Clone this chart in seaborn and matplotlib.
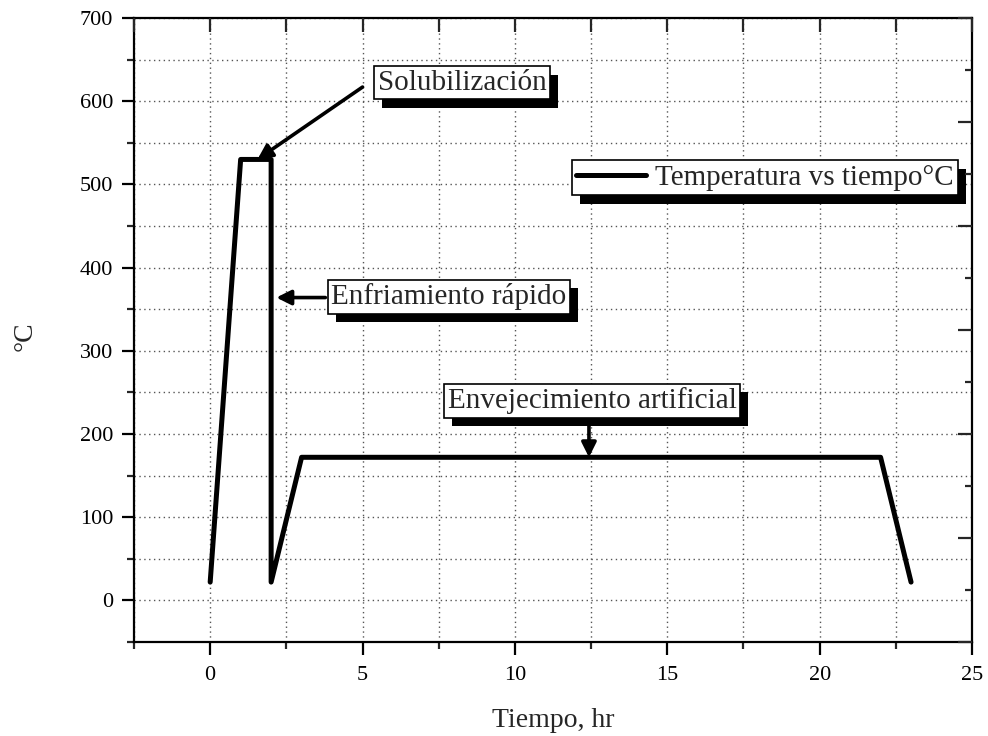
import matplotlib
matplotlib.use("Agg")
import matplotlib.pyplot as plt
import matplotlib.patheffects as pe
from matplotlib.ticker import MultipleLocator, NullFormatter
import seaborn as sns
import pandas as pd

# ---- data ----
tiempo_hr = [0, 1, 2, 2, 3, 22, 23]
temperatura_C = [22, 530, 530, 22, 172, 172, 22]
serie_label = "Temperatura vs tiempo°C"
x_label = "Tiempo, hr"
y_label = "°C"
anot_textos = ["Solubilización", "Enfriamiento rápido", "Envejecimiento artificial"]
anot_textpos = [(8.26, 622), (7.83, 365), (12.53, 240)]
flecha_puntas = [(1.55, 530), (2.17, 364), (12.43, 172)]
flecha_colas = [(5.0, 617), (3.78, 364), (12.43, 220)]

sns.set_theme(style="white")
plt.rcParams["font.family"] = ["Liberation Serif", "DejaVu Serif"]

fig = plt.figure(figsize=(9.88, 7.36), dpi=100)
ax = fig.add_axes([134/988, 1-642/736, (972-134)/988, (642-18)/736])

df = pd.DataFrame({"t": tiempo_hr, "T": temperatura_C})
sns.lineplot(data=df, x="t", y="T", sort=False, estimator=None, ax=ax,
             color="black", linewidth=3.6, label=serie_label)

ax.set_xlim(-2.5, 25)
ax.set_ylim(-50, 700)
ax.xaxis.set_major_locator(MultipleLocator(5))
ax.xaxis.set_minor_locator(MultipleLocator(2.5))
ax.yaxis.set_major_locator(MultipleLocator(100))
ax.yaxis.set_minor_locator(MultipleLocator(50))

ax.grid(True, which="both", linestyle=(0, (1, 2.5)), color="#555555", linewidth=1.0)
for s in ax.spines.values():
    s.set_linewidth(1.6)
    s.set_color("black")

ax.tick_params(axis="both", which="major", direction="out", length=9, width=1.6,
               labelsize=16, colors="black")
ax.tick_params(axis="x", which="major", pad=8)
ax.tick_params(axis="y", which="major", pad=6)
ax.tick_params(axis="both", which="minor", direction="out", length=5, width=1.6)
ax.tick_params(axis="x", which="both", top=False, bottom=True, labeltop=False)
ax.tick_params(axis="y", which="both", left=True, right=False)

# top inward ticks
axt = ax.twiny()
axt.set_xlim(ax.get_xlim())
axt.xaxis.set_major_locator(MultipleLocator(5))
axt.xaxis.set_minor_locator(MultipleLocator(2.5))
axt.xaxis.set_major_formatter(NullFormatter())
axt.tick_params(axis="x", which="both", direction="in", length=10, width=1.6)
axt.grid(False)
for s in axt.spines.values():
    s.set_visible(False)

# right inward ticks
axr = ax.twinx()
axr.set_ylim(0, 6)
axr.yaxis.set_major_locator(MultipleLocator(1))
axr.yaxis.set_minor_locator(MultipleLocator(0.5))
axr.yaxis.set_major_formatter(NullFormatter())
axr.tick_params(axis="y", which="major", direction="in", length=10, width=1.6)
axr.tick_params(axis="y", which="minor", direction="in", length=5, width=1.6)
axr.grid(False)
for s in axr.spines.values():
    s.set_visible(False)

ax.set_xlabel(x_label, fontsize=20)
ax.set_ylabel(y_label, fontsize=20)
ax.xaxis.set_label_coords(0.5, -0.105)
ax.yaxis.set_label_coords(-0.115, 0.49)

shadow = [pe.SimplePatchShadow(offset=(6, -6), shadow_rgbFace="black", alpha=1.0), pe.Normal()]

for tip, tail in zip(flecha_puntas, flecha_colas):
    ax.annotate("", xy=tip, xytext=tail, textcoords="data", zorder=9,
                arrowprops=dict(arrowstyle="-|>", color="black", lw=2.6,
                                mutation_scale=22, shrinkA=0, shrinkB=0))

for txt, tpos in zip(anot_textos, anot_textpos):
    t = ax.text(tpos[0], tpos[1], txt, ha="center", va="center", fontsize=21, zorder=10,
                bbox=dict(boxstyle="square,pad=0.12", fc="white", ec="black", lw=1.2))
    t.get_bbox_patch().set_path_effects(shadow)

leg = ax.legend(loc="upper right", bbox_to_anchor=(0.983, 0.772), fontsize=21,
                frameon=True, fancybox=False, framealpha=1, edgecolor="black",
                handlelength=2.4, handletextpad=0.3, borderpad=0.15,
                borderaxespad=0)
leg.get_frame().set_linewidth(1.2)
leg.get_frame().set_path_effects(shadow)
leg.set_zorder(10)

fig.savefig("out.png", dpi=100)
